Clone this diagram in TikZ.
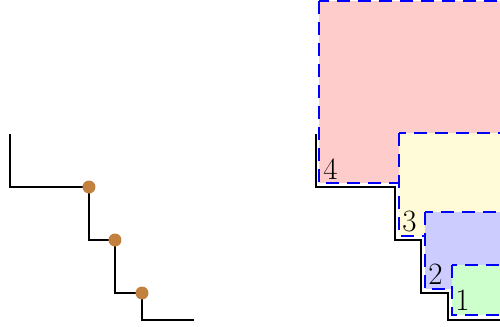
\documentclass[tikz,border=0pt]{standalone}
\usepackage{xcolor}
\usepackage{tikz}
\usetikzlibrary{positioning}
\definecolor{stepRed}{HTML}{FFCCCC}
\definecolor{stepYellow}{HTML}{FFFAD8}
\definecolor{stepBlue}{HTML}{CCCCFF}
\definecolor{stepGreen}{HTML}{CCFFCC}
\definecolor{jointBrown}{HTML}{C2813F}
\begin{document}
\begin{tikzpicture}[x=0.5pt,y=-0.5pt,
  stair/.style={line width=1pt,line join=miter},
  region/.style={draw=blue,line width=1pt,dash pattern=on 6.5pt off 4pt},
  joint/.style={circle,fill=jointBrown,inner sep=0pt,minimum size=6.5pt},
  tag/.style={anchor=south west,inner sep=0pt,font=\fontsize{15.5}{18}\selectfont}]
\useasboundingbox (0,0) rectangle (500,327);
\clip (0,0) rectangle (500,327);
% left staircase with joints
\draw[stair] (10,134)--(10,187)--(89,187)--(89,240)--(115,240)--(115,293)--(142,293)--(142,320)--(194,320);
\node[joint] (j1) at (89,187) {};
\node[joint] (j2) at (115,240) {};
\node[joint] (j3) at (142,293) {};
% right staircase with nested regions
\draw[stair] (316,134)--(316,187)--(395,187)--(395,240)--(421,240)--(421,293)--(448,293)--(448,320)--(510,320);
\draw[region,fill=stepRed] (319,1) rectangle (520,183);
\draw[region,fill=stepYellow] (399,133) rectangle (520,236);
\draw[region,fill=stepBlue] (425,212) rectangle (520,289);
\draw[region,fill=stepGreen] (452,265) rectangle (520,315);
\node[tag] (r4) at (323,180) {4};
\node[tag] (r3) at (402,232) {3};
\node[tag] (r2) at (428,285) {2};
\node[tag] (r1) at (455,311) {1};
\end{tikzpicture}
\end{document}
